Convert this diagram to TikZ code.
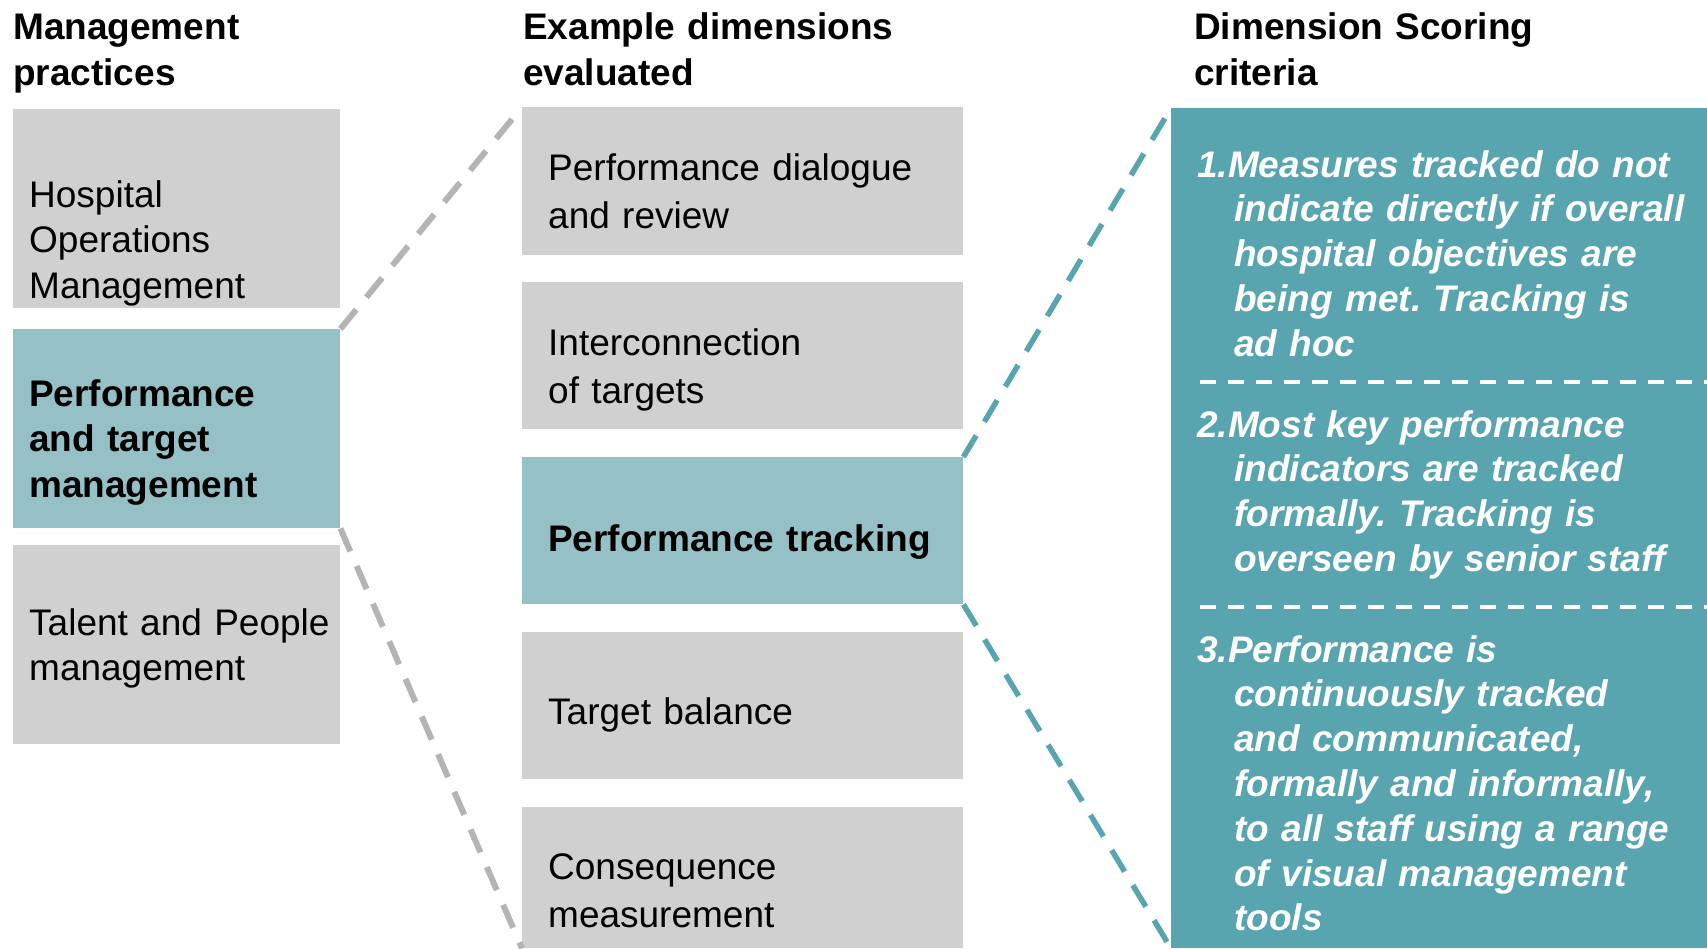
\documentclass[tikz,border=0pt]{standalone}
\usepackage{fontspec}
\setmainfont{Liberation Sans}
\usepackage{xcolor}
\definecolor{boxgray}{HTML}{D0D0D0}
\definecolor{paleteal}{HTML}{95C0C6}
\definecolor{deepteal}{HTML}{58A5AF}
\definecolor{dashgray}{HTML}{B4B4B4}
\newcommand{\numgap}{\hspace*{37pt}}
\frenchspacing

\begin{document}
\begin{tikzpicture}[x=1pt,y=-1pt,
            cell/.style={anchor=north west, inner sep=0pt, fill=boxgray},
            hot/.style={cell, fill=paleteal},
            txt/.style={anchor=base west, inner sep=0pt, align=left, text width=440pt,
                font=\fontsize{37}{45.5}\selectfont},
            mid/.style={txt, font=\fontsize{37}{48}\selectfont},
            head/.style={txt, font=\fontsize{37}{46.5}\selectfont\bfseries},
            crit/.style={txt, text width=500pt, text=white,
                font=\fontsize{37}{44.8}\selectfont\bfseries\itshape},
            greydash/.style={draw=dashgray, line width=6pt, dash pattern=on 25pt off 16pt},
            tealdash/.style={draw=deepteal, line width=5.5pt, dash pattern=on 25pt off 16pt},
            whitedash/.style={draw=white, line width=3.5pt, dash pattern=on 16pt off 12pt}]
    \useasboundingbox (0,0) rectangle (1707,948);

    \node[head] (h1) at (13,39) {Management\\practices};
    \node[head] (h2) at (523,39) {Example dimensions\\evaluated};
    \node[head] (h3) at (1194,39) {Dimension Scoring\\criteria};

    \node[cell, minimum width=327pt, minimum height=199pt] (hosp) at (13,109) {};
    \node[hot,  minimum width=327pt, minimum height=199pt] (perf) at (13,329) {};
    \node[cell, minimum width=327pt, minimum height=199pt] (talent) at (13,545) {};
    \node[txt] (hosp-t) at (29,207) {Hospital\\Operations\\Management};
    \node[txt, font=\fontsize{37}{45.5}\selectfont\bfseries] (perf-t) at (29,406) {Performance\\and target\\management};
    \node[txt] (talent-t) at (29,635) {Talent and People\\management};

    \node[cell, minimum width=441pt, minimum height=148pt] (dialog) at (522,107) {};
    \node[cell, minimum width=441pt, minimum height=147pt] (interc) at (522,282) {};
    \node[hot,  minimum width=441pt, minimum height=147pt] (track) at (522,457) {};
    \node[cell, minimum width=441pt, minimum height=147pt] (balance) at (522,632) {};
    \node[cell, minimum width=441pt, minimum height=141pt] (conseq) at (522,807) {};
    \node[mid] (dialog-t) at (548,180) {Performance dialogue\\and review};
    \node[mid] (interc-t) at (548,355) {Interconnection\\of targets};
    \node[mid, font=\fontsize{37}{48}\selectfont\bfseries] (track-t) at (548,551) {Performance tracking};
    \node[mid] (balance-t) at (548,724) {Target balance};
    \node[mid] (conseq-t) at (548,879) {Consequence\\measurement};

    \node[cell, fill=deepteal, minimum width=536pt, minimum height=840pt] (score) at (1171,108) {};
    \node[crit] (lvl1) at (1197,177) {1.Measures tracked do not\\\numgap indicate directly if overall\\\numgap hospital objectives are\\\numgap being met. Tracking is\\\numgap ad hoc};
    \node[crit] (lvl2) at (1197,437) {2.Most key performance\\\numgap indicators are tracked\\\numgap formally. Tracking is\\\numgap overseen by senior staff};
    \node[crit] (lvl3) at (1197,662) {3.Performance is\\\numgap continuously tracked\\\numgap and communicated,\\\numgap formally and informally,\\\numgap to all staff using a range\\\numgap of visual management\\\numgap tools};
    \coordinate (sep1) at (1200,382);
    \coordinate (sep2) at (1200,607);
    \draw[whitedash] (sep1) -- (sep1 -| score.east);
    \draw[whitedash] (sep2) -- (sep2 -| score.east);

    \draw[greydash] (perf.north east) -- (dialog.north west);
    \draw[greydash] (perf.south east) -- (conseq.south west);
    \draw[tealdash] (track.north east) -- (score.north west);
    \draw[tealdash] (track.south east) -- (score.south west);
\end{tikzpicture}
\end{document}
